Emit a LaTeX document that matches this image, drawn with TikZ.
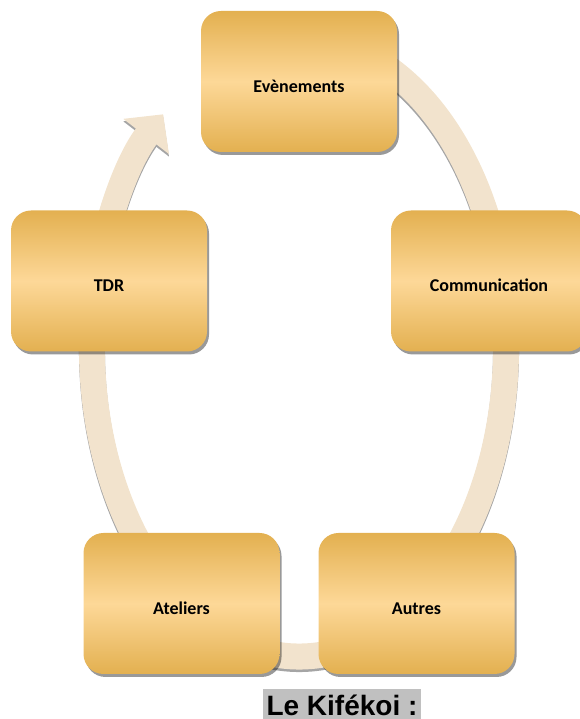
\documentclass[tikz,border=0pt]{standalone}
\usepackage{fontspec}
\setmainfont{Carlito}
\newfontfamily\arialfont{Liberation Sans}
\usetikzlibrary{shadows,arrows.meta}

\definecolor{boxgold}{RGB}{227,176,80}
\definecolor{boxlight}{RGB}{253,216,152}
\definecolor{cyclebeige}{RGB}{242,227,205}
\definecolor{cycleshadow}{RGB}{165,165,165}
\definecolor{labelgray}{RGB}{192,192,192}

\tikzset{
  etape/.style={rectangle, rounded corners=20pt, inner sep=0pt,
    minimum width=196pt, minimum height=141pt,
    top color=boxgold, bottom color=boxgold, middle color=boxlight,
    drop shadow={shadow xshift=2pt, shadow yshift=-3pt, fill=black, opacity=0.4},
    font=\bfseries\fontsize{18}{20}\selectfont,
    text height=22pt, text depth=0pt},
  cyclearc/.style={line width=26pt, -{Triangle[width=56pt,length=28pt]}}
}

\begin{document}
\begin{tikzpicture}[x=1pt,y=1pt]
\useasboundingbox (0,0) rectangle (579,719);

%cercle
    \coordinate (centre) at (299,371.5);
    \draw[cyclearc, cycleshadow]
        ([shift={(80:207pt and 309pt)}, yshift=-2.5pt]centre)
        arc[start angle=80, end angle=-229, x radius=207pt, y radius=309pt];
    \draw[cyclearc, cyclebeige]
        ([shift={(80:207pt and 309pt)}]centre)
        arc[start angle=80, end angle=-229, x radius=207pt, y radius=309pt];

%etapes
    \node[etape] (evenements) at (299,637.5) {Evènements};
    \node[etape] (communication) at (489,438) {Communication};
    \node[etape] (autres) at (416.5,115.5) {Autres};
    \node[etape] (ateliers) at (181.5,115.5) {Ateliers};
    \node[etape] (tdr) at (109,438) {TDR};

%titre
    \node[anchor=base, fill=labelgray, inner xsep=3.5pt, inner ysep=0pt,
          text height=26pt, text depth=4pt,
          font=\arialfont\bfseries\fontsize{28}{30}\selectfont]
          (titre) at (342,4) {Le Kifékoi :};
\end{tikzpicture}
\end{document}
